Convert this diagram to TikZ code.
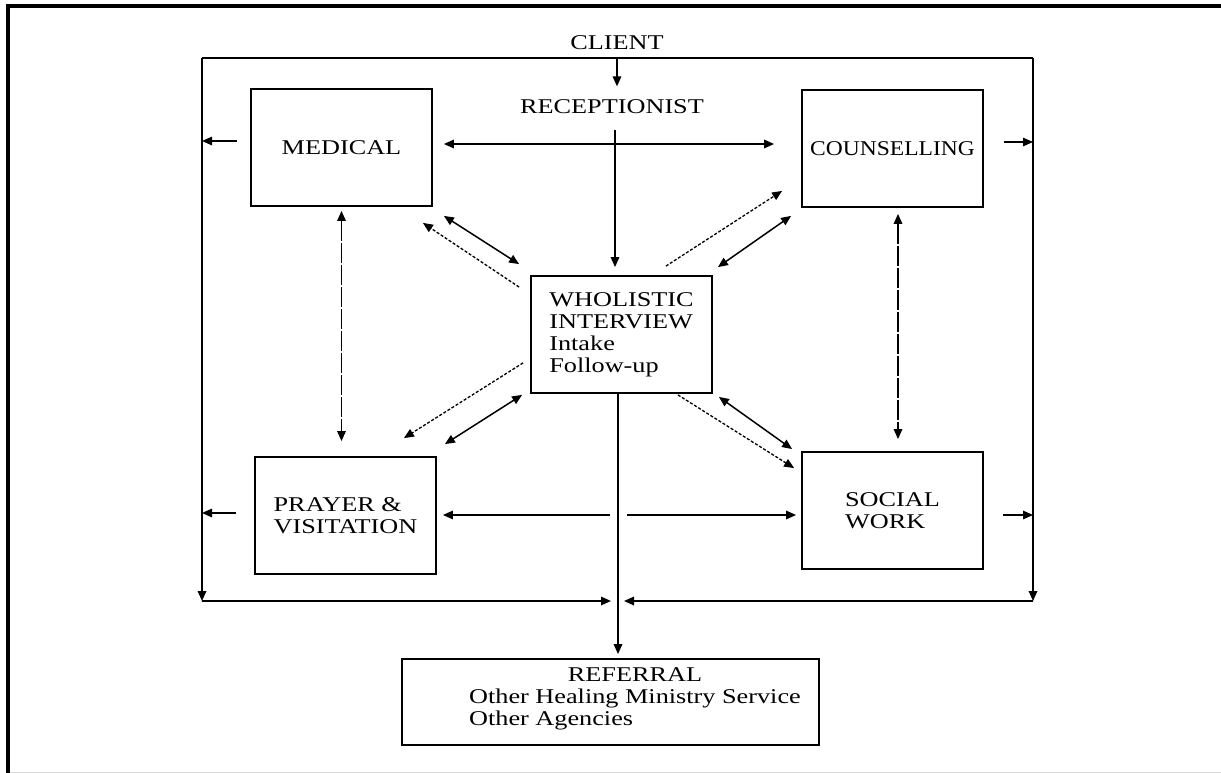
\documentclass[tikz,border=0pt]{standalone}
\usepackage{fontspec}
\setmainfont{Liberation Serif}[FakeStretch=1.25]
\newfontfamily\narrowf{Liberation Serif}[FakeStretch=1.12]
\usetikzlibrary{arrows.meta,calc}
\begin{document}
\begin{tikzpicture}[x=1pt,y=-1pt,
  every node/.style={font=\fontsize{21}{22}\selectfont},
  >={Triangle[length=10pt,width=8.5pt]},
  box/.style={draw, line width=1.8pt, minimum width=181pt, minimum height=117pt, inner sep=0pt},
  conn/.style={line width=1.5pt},
  ddash/.style={line width=1.3pt, dash pattern=on 3pt off 1.8pt},
  vdash/.style={line width=1.5pt, dash pattern=on 20pt off 2pt},
  frame/.style={line width=1.7pt}]
\useasboundingbox (0,0) rectangle (1221,773);
% page border
\draw[line width=4pt] (8,775) -- (8,6) -- (1221,6);
\draw[gray!30, line width=1pt] (10,772) -- (1221,772);
% frame corners and axes
\coordinate (fTL) at (202,58);
\coordinate (fTR) at (1033,58);
\coordinate (fBL) at (202,601);
\coordinate (fBR) at (1033,601);
\coordinate (fBa) at (611,601);
\coordinate (fBb) at (624,601);
\coordinate (vx) at (618,0);
\coordinate (vx2) at (898,0);
\coordinate (hy) at (0,144);
\coordinate (hy2) at (0,515);
\coordinate (gapL) at (610,515);
\coordinate (gapR) at (627,515);
% nodes
\node (cli) at (617,43) {CLIENT};
\node (rec) at (612,107) {RECEPTIONIST};
\node[box] (med) at (341.5,147.5) {MEDICAL};
\node[box] (cou) at (892.5,148.5) {\narrowf COUNSELLING};
\node[box, align=left] (pra) at (345.5,515.5) {PRAYER \&\\VISITATION};
\node[box, align=left] (soc) at (892.5,510.5) {SOCIAL\\WORK};
\node[box, align=left] (who) at (621.5,334.5) {WHOLISTIC\\INTERVIEW\\Intake\\Follow-up};
\node[draw, line width=1.8pt, minimum width=417pt, minimum height=86pt, inner sep=0pt] (ref) at (610.5,702) {};
\node[inner sep=0pt] (reftxt) at (635,699) {\begin{tabular}{@{}l@{}}\multicolumn{1}{@{}c@{}}{REFERRAL}\\Other Healing Ministry Service\\Other Agencies\end{tabular}};
% frame
\draw[frame] (fTL) -- (fTR);
\draw[frame,->] (fTL) -- (fBL);
\draw[frame,->] (fTR) -- (fBR);
\draw[frame,->] (fBL) -- (fBa);
\draw[frame,->] (fBR) -- (fBb);
\draw[line width=2.5pt] (1033,488) -- (1033,510);
% client -> receptionist -> interview
\draw[conn,->,shorten <=3pt,shorten >=10pt] (cli.south) -- (cli.south |- rec.north);
\draw[conn,->,shorten <=12pt,shorten >=8pt] (rec.south -| 615,0) -- (who.north -| 615,0);
\draw[conn,->,shorten >=4pt] (who.south -| vx) -- (ref.north -| vx);
% horizontal links
\draw[conn,<->,shorten <=11pt,shorten >=27pt] (med.east |- hy) -- (cou.west |- hy);
\draw[conn,->,shorten >=6pt] (gapL) -- (pra.east |- hy2);
\draw[conn,->,shorten >=5pt] (gapR) -- (soc.west |- hy2);
% arrows to frame
\draw[conn,->] ($(med.west)+(-13,-6.5)$) -- ($(med.west -| fTL)+(0,-6.5)$);
\draw[conn,->] ($(cou.east)+(20,-6.5)$) -- ($(cou.east -| fTR)+(0,-6.5)$);
\draw[conn,->] ($(pra.west)+(-18,-2.5)$) -- ($(pra.west -| fTL)+(0,-2.5)$);
\draw[conn,->] ($(soc.east)+(19,4.5)$) -- ($(soc.east -| fTR)+(0,4.5)$);
% vertical dashed links
\draw[vdash,<->,shorten <=4pt,shorten >=15pt] (med.south) -- (med.south |- pra.north);
\draw[vdash,<->,shorten <=6pt,shorten >=12pt] (cou.south -| vx2) -- (soc.north -| vx2);
% diagonal links
\draw[conn,<->] ($(med.south east)+(11,9)$) -- ($(who.north west)+(-11,-11)$);
\draw[ddash,->] ($(who.north west)+(-11,12)$) -- ($(med.south east)+(-10,16)$);
\draw[ddash,->] ($(who.north east)+(-47,-9)$) -- ($(cou.south west)+(-19,-17)$);
\draw[conn,<->] ($(who.north east)+(5,-8)$) -- ($(cou.south west)+(-10,8)$);
\draw[ddash,->] ($(who.south west)+(-7,-31)$) -- ($(pra.north east)+(-33,-18)$);
\draw[conn,<->] ($(who.south west)+(-8,1)$) -- ($(pra.north east)+(8,-12)$);
\draw[ddash,->] ($(who.south east)+(-35,1)$) -- ($(soc.north west)+(-7,17)$);
\draw[conn,<->] ($(who.south east)+(6,3)$) -- ($(soc.north west)+(-9,-2)$);
\end{tikzpicture}
\end{document}
